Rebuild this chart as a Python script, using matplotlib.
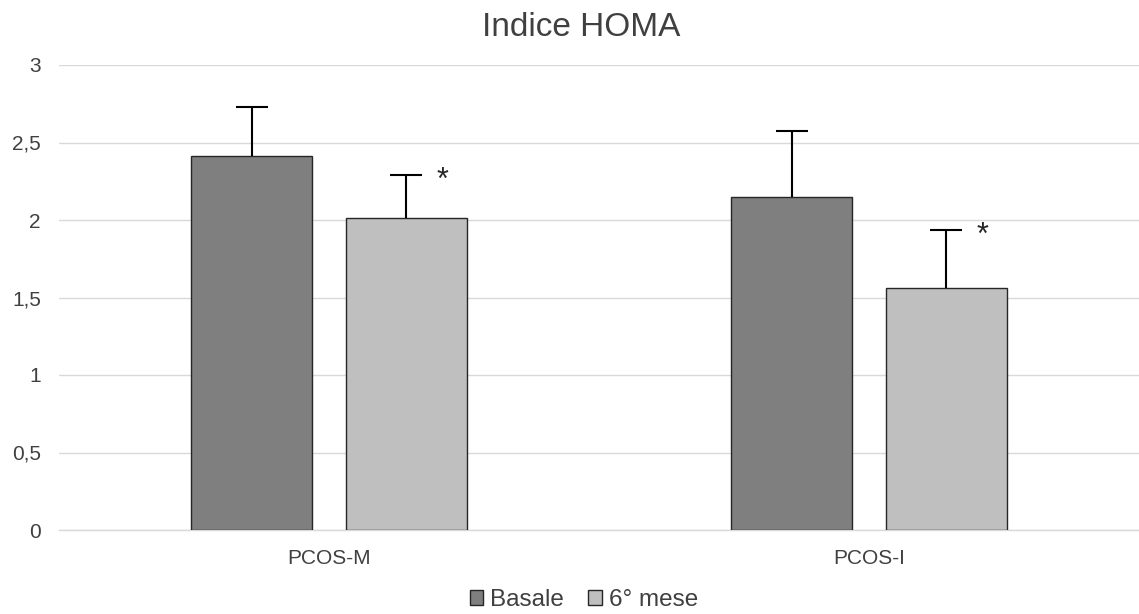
import matplotlib
matplotlib.use("Agg")
import matplotlib.pyplot as plt
import numpy as np

plt.rcParams['font.family'] = ['Liberation Sans', 'DejaVu Sans']

categories = ["PCOS-M", "PCOS-I"]
series_names = ["Basale", "6° mese"]
basale = [2.41, 2.15]
basale_err = [0.32, 0.425]
mese6 = [2.01, 1.56]
mese6_err = [0.28, 0.375]
ytick_vals = [0, 0.5, 1, 1.5, 2, 2.5, 3]
ytick_labels = ["0", "0,5", "1", "1,5", "2", "2,5", "3"]

W, H = 1139, 614
fig = plt.figure(figsize=(W / 100, H / 100), dpi=100)
ax = fig.add_axes([59 / W, (H - 530) / H, 1 - 59 / W, (530 - 65) / H])

x = np.arange(len(categories))
bw = 0.224
off = 0.1435
colors = ["#7f7f7f", "#bfbfbf"]

for i, (vals, errs, col, name) in enumerate(zip([basale, mese6], [basale_err, mese6_err], colors, series_names)):
    xpos = x + (-off if i == 0 else off)
    ax.bar(xpos, vals, width=bw, color=col, edgecolor="#262626", linewidth=1.0, label=name, zorder=3)
    eb = ax.errorbar(xpos, vals, yerr=[np.zeros(len(vals)), errs], fmt="none", ecolor="black",
                     elinewidth=1.5, capsize=11.5, capthick=1.5, zorder=4)
    # hide lower caps (only positive error bars)
    eb[1][0].set_visible(False)
    if i == 1:
        for xp, v, e in zip(xpos, vals, errs):
            ax.annotate("*", xy=(xp, v + e), xytext=(26, -4), textcoords="offset points",
                        ha="center", va="center", fontsize=22, color="#262626")

ax.set_xlim(-0.5, 1.5)
ax.set_ylim(0, 3)
ax.set_yticks(ytick_vals)
ax.set_yticklabels(ytick_labels)
ax.set_xticks(x)
ax.set_xticklabels(categories)
ax.tick_params(axis="both", length=0, labelsize=15, colors="#595959", labelcolor="#404040")
ax.tick_params(axis="y", pad=13)
ax.tick_params(axis="x", pad=14)
ax.grid(axis="y", color="#d9d9d9", linewidth=1.0, zorder=0)
for s in ["top", "right", "left"]:
    ax.spines[s].set_visible(False)
ax.spines["bottom"].set_color("#d9d9d9")
ax.spines["bottom"].set_linewidth(1.0)

fig.text(581 / W, 1 - 27 / H, "Indice HOMA", ha="center", va="center", fontsize=24, color="#404040")

leg = fig.legend(loc="center", bbox_to_anchor=(584 / W, 1 - 600 / H), ncol=2, frameon=False,
                 fontsize=17.5, handlelength=0.55, handleheight=0.55, handletextpad=0.3,
                 columnspacing=1.0, labelcolor="#404040")

fig.savefig("out.png", dpi=100)
